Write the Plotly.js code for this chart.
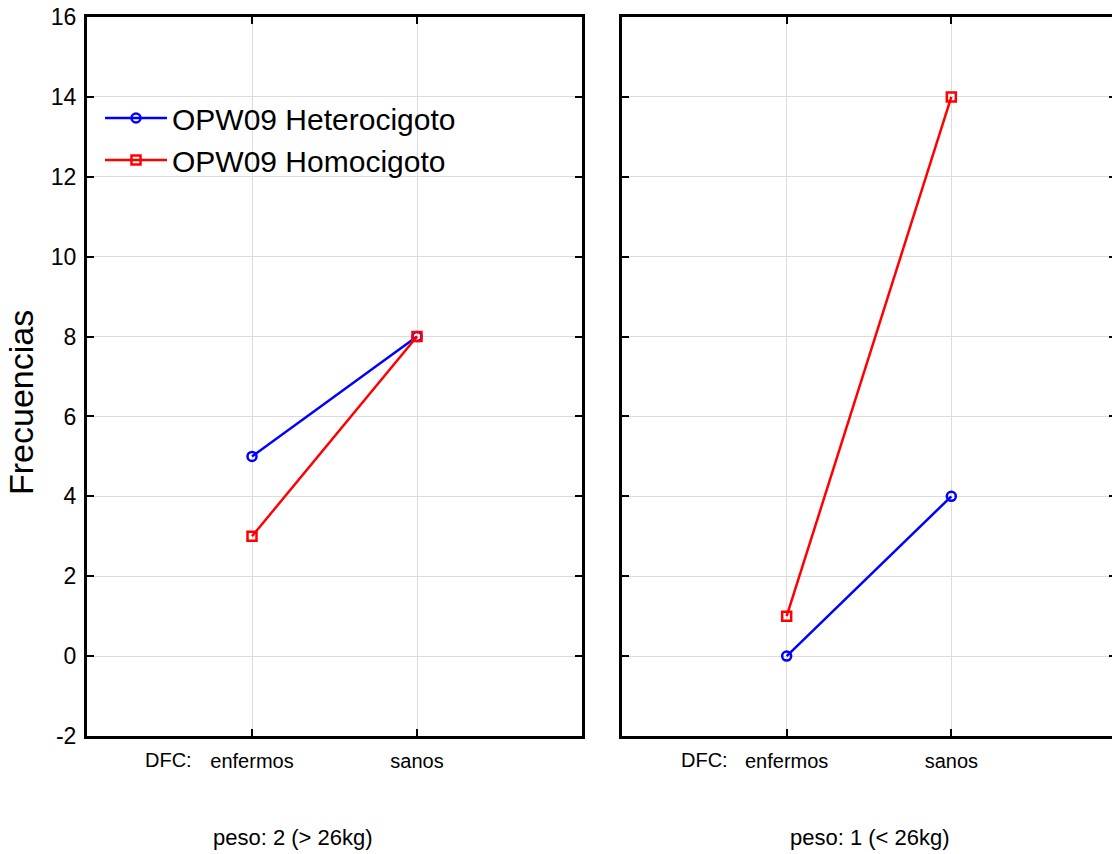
<!DOCTYPE html>
<html>
<head>
<meta charset="utf-8">
<script src="https://cdn.plot.ly/plotly-3.0.1.min.js"></script>
<style>
html,body{margin:0;padding:0;overflow:hidden;background:#fff;}
#chart{width:1116px;height:854px;}
</style>
</head>
<body>
<div id="chart"></div>
<script>
// Data
const categories = ["enfermos", "sanos"];
const panelLabels = ["peso: 2 (> 26kg)", "peso: 1 (< 26kg)"];
const seriesNames = ["OPW09 Heterocigoto", "OPW09 Homocigoto"];
const hetPeso2 = [5, 8];
const homPeso2 = [3, 8];
const hetPeso1 = [0, 4];
const homPeso1 = [1, 14];
const yTicks = [-2, 0, 2, 4, 6, 8, 10, 12, 14, 16];
const yTickText = ["-2", "0", "2", "4", "6", "8", "10", "12", "14", "16"];

const W = 1116, H = 854;
const px = v => v / W;
const py = v => (H - v) / H;

const FONT = "Arial, 'Liberation Sans', sans-serif";
const blue = "#0000ff", red = "#ff0000";

function trace(y, name, color, symbol, xa, ya, show) {
  return {
    x: categories, y: y, name: name, type: "scatter", mode: "lines+markers",
    xaxis: xa, yaxis: ya, showlegend: show, legendgroup: name,
    line: {color: color, width: 2.5},
    marker: {symbol: symbol, size: 9, color: color, line: {color: color, width: 2.5}}
  };
}

const data = [
  trace(hetPeso2, seriesNames[0], blue, "circle-open", "x", "y", true),
  trace(homPeso2, seriesNames[1], red, "square-open", "x", "y", true),
  trace(hetPeso1, seriesNames[0], blue, "circle-open", "x2", "y2", false),
  trace(homPeso1, seriesNames[1], red, "square-open", "x2", "y2", false)
];

const yDom = [py(736), py(17)];

function xaxis(dom, anchor) {
  return {
    domain: dom, anchor: anchor, type: "category", range: [-1, 2],
    showline: true, linecolor: "#000", linewidth: 3, mirror: "ticks",
    ticks: "inside", ticklen: 7, tickwidth: 2, tickcolor: "#000",
    showgrid: true, gridcolor: "#dcdcdc", gridwidth: 1,
    zeroline: false, tickfont: {family: FONT, size: 20, color: "#000"},
    ticklabelstandoff: 5,
    fixedrange: true
  };
}
function yaxis(anchor, labels) {
  return {
    domain: yDom, anchor: anchor, range: [-2, 16],
    tickmode: "array", tickvals: yTicks, ticktext: yTickText,
    showline: true, linecolor: "#000", linewidth: 3, mirror: "ticks",
    ticks: "inside", ticklen: 7, tickwidth: 2, tickcolor: "#000",
    showgrid: true, gridcolor: "#dcdcdc", gridwidth: 1,
    zeroline: false, showticklabels: labels,
    tickfont: {family: FONT, size: 23, color: "#000"},
    ticklabelstandoff: 3,
    fixedrange: true
  };
}

const layout = {
  width: W, height: H,
  margin: {l: 0, r: 0, t: 0, b: 0},
  paper_bgcolor: "#fff", plot_bgcolor: "#fff",
  font: {family: FONT, color: "#000"},
  xaxis: xaxis([px(87), px(582)], "y"),
  yaxis: yaxis("x", true),
  xaxis2: xaxis([px(622), 1], "y2"),
  yaxis2: yaxis("x2", false),
  showlegend: true,
  legend: {
    x: px(100), y: py(92), xanchor: "left", yanchor: "top",
    bgcolor: "rgba(255,255,255,0)", borderwidth: 0,
    font: {family: FONT, size: 30, color: "#000"},
    traceorder: "grouped", tracegroupgap: 0, itemwidth: 62
  },
  annotations: [
    {text: "Frecuencias", x: px(21), y: py(403), xref: "paper", yref: "paper",
     xanchor: "center", yanchor: "middle",
     textangle: -90, showarrow: false, font: {family: FONT, size: 34, color: "#000"}},
    {text: "DFC:", x: px(168), y: py(760), xref: "paper", yref: "paper",
     xanchor: "center", yanchor: "middle",
     showarrow: false, font: {family: FONT, size: 20, color: "#000"}},
    {text: "DFC:", x: px(704), y: py(760), xref: "paper", yref: "paper",
     xanchor: "center", yanchor: "middle",
     showarrow: false, font: {family: FONT, size: 20, color: "#000"}},
    {text: panelLabels[0], x: px(293), y: py(837), xref: "paper", yref: "paper",
     xanchor: "center", yanchor: "middle",
     showarrow: false, font: {family: FONT, size: 22, color: "#000"}},
    {text: panelLabels[1], x: px(870), y: py(837), xref: "paper", yref: "paper",
     xanchor: "center", yanchor: "middle",
     showarrow: false, font: {family: FONT, size: 22, color: "#000"}}
  ]
};

Plotly.newPlot("chart", data, layout, {displayModeBar: false, staticPlot: true});
</script>
</body>
</html>
